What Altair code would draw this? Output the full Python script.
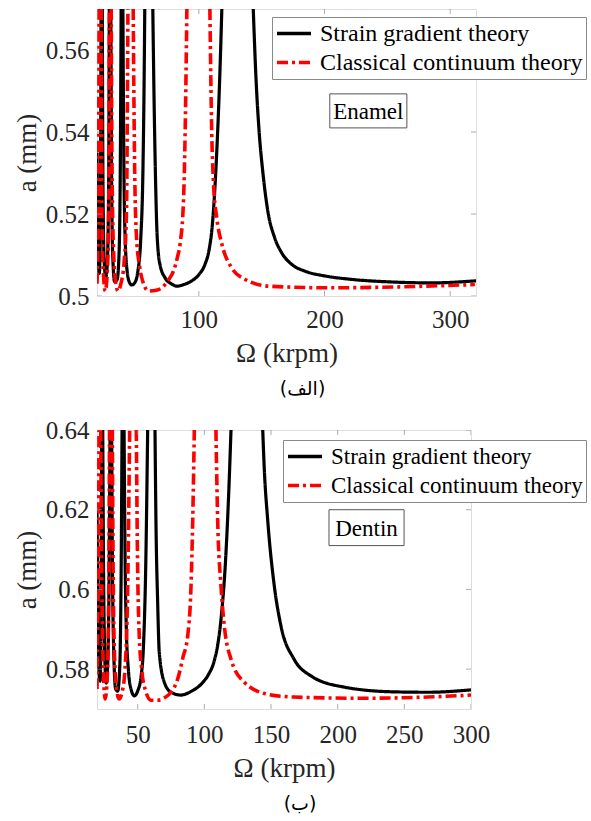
import altair as alt
import pandas as pd

SERIES = ["Strain gradient theory", "Classical continuum theory"]

# ---------------- Enamel (top panel) ----------------
enamel_sgt_x = [
    [19.0, 19.8, 20.8, 21.6, 22.2],
    [23.2, 23.8, 24.8, 26.0, 27.2, 28.2, 28.8],
    [30.0, 30.6, 31.5, 33.0, 35.0, 36.5, 37.5, 38.2],
    [39.6, 40.3, 41.3, 43.0, 45.0, 46.7, 49.0, 51.5, 53.8, 55.5, 56.4, 57.0],
    [63.4, 64.4, 65.6, 66.8, 69.0, 73.2, 78.0, 82.5, 88.0, 94.4, 100.0, 105.0, 108.0, 110.8, 114.3, 116.9, 118.3],
    [143.3, 145.5, 148.0, 151.0, 155.0, 160.0, 166.0, 174.0, 185.0, 200.0, 220.0, 255.0, 285.0, 320.5],
]
enamel_sgt_y = [
    [0.535, 0.512, 0.5055, 0.515, 0.57],
    [0.57, 0.525, 0.508, 0.5045, 0.508, 0.525, 0.57],
    [0.57, 0.53, 0.51, 0.5035, 0.504, 0.51, 0.53, 0.57],
    [0.57, 0.535, 0.515, 0.506, 0.5032, 0.5027, 0.5032, 0.506, 0.514, 0.53, 0.55, 0.57],
    [0.57, 0.548, 0.528, 0.515, 0.5078, 0.5044, 0.503, 0.5024, 0.5028, 0.5037, 0.5052, 0.5078, 0.511, 0.5175, 0.5354, 0.5557, 0.57],
    [0.57, 0.553, 0.540, 0.530, 0.5205, 0.5145, 0.5105, 0.5077, 0.506, 0.5049, 0.5041, 0.5034, 0.5032, 0.5037],
]
enamel_cct_x = [
    [19.0, 19.6, 20.2, 20.7],
    [22.3, 22.9, 24.0, 25.6, 27.2, 28.3, 28.9],
    [30.3, 31.0, 32.3, 34.0, 35.8, 38.0, 40.5, 42.4, 43.6],
    [47.8, 48.8, 50.3, 53.0, 56.0, 60.0, 66.0, 70.6, 76.0, 79.9, 83.0, 85.1, 87.8, 89.1, 90.5],
    [108.8, 110.3, 111.7, 114.3, 118.3, 126.3, 136.6, 155.7, 203.4, 255.9, 319.6],
]
enamel_cct_y = [
    [0.503, 0.51, 0.53, 0.57],
    [0.57, 0.52, 0.506, 0.5012, 0.506, 0.52, 0.57],
    [0.57, 0.53, 0.51, 0.503, 0.5012, 0.503, 0.508, 0.52, 0.57],
    [0.57, 0.535, 0.515, 0.507, 0.503, 0.5012, 0.5014, 0.502, 0.504, 0.5061, 0.5095, 0.5127, 0.5232, 0.5395, 0.57],
    [0.57, 0.5395, 0.5273, 0.519, 0.5127, 0.5068, 0.5041, 0.5024, 0.502, 0.5022, 0.5028],
]

# ---------------- Dentin (bottom panel) ----------------
dentin_sgt_x = [
    [19.5, 20.2, 21.0, 21.8, 22.5, 23.0],
    [23.8, 24.3, 25.2, 26.4, 27.6, 28.6, 29.3],
    [30.5, 31.0, 32.0, 33.5, 35.0, 36.5, 37.5, 38.3],
    [39.8, 40.5, 41.5, 43.0, 45.0, 47.5, 50.0, 52.5, 54.5, 56.0, 57.5],
    [63.0, 63.7, 65.0, 66.2, 70.0, 75.0, 82.5, 90.0, 97.5, 103.0, 107.2, 110.0, 112.5, 116.2, 118.5, 120.0],
    [143.8, 145.0, 147.5, 152.5, 157.5, 167.3, 180.0, 204.8, 242.3, 267.8, 300.0],
]
dentin_sgt_y = [
    [0.62, 0.595, 0.58, 0.577, 0.59, 0.64],
    [0.64, 0.61, 0.585, 0.5765, 0.582, 0.605, 0.64],
    [0.64, 0.61, 0.585, 0.575, 0.5745, 0.58, 0.60, 0.64],
    [0.64, 0.61, 0.59, 0.58, 0.575, 0.5733, 0.5745, 0.578, 0.587, 0.605, 0.64],
    [0.64, 0.6175, 0.5967, 0.5842, 0.5767, 0.5742, 0.5735, 0.5744, 0.5762, 0.5786, 0.5818, 0.586, 0.5925, 0.609, 0.626, 0.64],
    [0.64, 0.63, 0.6175, 0.6008, 0.5908, 0.5825, 0.5783, 0.5755, 0.5743, 0.5742, 0.5748],
]
dentin_cct_x = [
    [19.5, 20.0, 20.5, 21.0],
    [22.3, 22.9, 24.0, 25.6, 27.2, 28.3, 28.9],
    [31.0, 31.5, 32.5, 34.0, 36.0, 38.5, 40.5, 42.5, 44.0],
    [49.0, 49.8, 51.0, 53.0, 56.0, 60.0, 65.0, 70.0, 75.0, 80.0, 84.0, 87.5, 90.0, 91.3, 92.5],
    [108.7, 110.0, 112.5, 115.0, 120.0, 130.0, 147.5, 167.3, 217.5, 267.8, 300.0],
]
dentin_cct_y = [
    [0.575, 0.59, 0.61, 0.64],
    [0.64, 0.61, 0.583, 0.5725, 0.578, 0.60, 0.64],
    [0.64, 0.61, 0.585, 0.5755, 0.5725, 0.5745, 0.58, 0.60, 0.64],
    [0.64, 0.61, 0.59, 0.58, 0.5745, 0.5722, 0.5722, 0.5728, 0.5742, 0.5775, 0.583, 0.5883, 0.6008, 0.6175, 0.64],
    [0.64, 0.6175, 0.6008, 0.5908, 0.5825, 0.5767, 0.5737, 0.573, 0.5727, 0.573, 0.5735],
]

# axis settings
enamel_xdomain = [19.0, 320.5]
enamel_ydomain = [0.5, 0.57]
enamel_xticks = [100, 200, 300]
enamel_yticks = [0.5, 0.52, 0.54, 0.56]
dentin_xdomain = [19.5, 300.0]
dentin_ydomain = [0.57, 0.64]
dentin_xticks = [50, 100, 150, 200, 250, 300]
dentin_yticks = [0.58, 0.6, 0.62, 0.64]

# annotation boxes (data coordinates)
enamel_box = dict(label="Enamel", x1=204.2, x2=265.5, y1=0.5410, y2=0.5493)
dentin_box = dict(label="Dentin", x1=193.5, x2=249.8, y1=0.6110, y2=0.6200)

SERIF = "Liberation Serif, Times New Roman, serif"
TXT = "#262626"
FRAME = "#8a8a8a"


def lobes_df(xs, ys, series):
    rows = []
    for i, (lx, ly) in enumerate(zip(xs, ys)):
        for x, y in zip(lx, ly):
            rows.append({"x": x, "y": y, "series": series, "lobe": f"{series}-{i}"})
    return pd.DataFrame(rows)


def panel(sgt_x, sgt_y, cct_x, cct_y, xdom, ydom, xticks, yticks, box,
          caption, w, h, legx, legy, legfont, xlabpad):
    xs = alt.Scale(domain=xdom, nice=False, zero=False)
    ys = alt.Scale(domain=ydom, nice=False, zero=False)
    legend = alt.Legend(
        title=None, orient="none", legendX=legx, legendY=legy,
        direction="vertical", fillColor="white", strokeColor=FRAME,
        padding=3, labelFont=SERIF, labelFontSize=legfont, labelColor="black",
        symbolType="stroke", symbolSize=1156, symbolStrokeWidth=3.5,
        labelOffset=7, rowPadding=2, clipHeight=27, labelLimit=400,
    )
    color = alt.Color("series:N", scale=alt.Scale(domain=SERIES, range=["black", "red"]), legend=legend)
    dash = alt.StrokeDash("series:N", scale=alt.Scale(domain=SERIES, range=[[1, 0], [11, 4, 3, 4]]), legend=legend)
    xaxis = alt.Axis(values=xticks, format="d", title="Ω (krpm)", labelFont=SERIF, labelFontSize=25,
                     labelColor=TXT, titleFont=SERIF, titleFontSize=27, titleFontWeight="normal",
                     titleColor=TXT, ticks=False, domain=False, grid=False, labelPadding=xlabpad,
                     titlePadding=8, labelFlush=False)
    yaxis = alt.Axis(values=yticks, format=".2~f", title="a (mm)", labelFont=SERIF, labelFontSize=25,
                     labelColor=TXT, titleFont=SERIF, titleFontSize=27, titleFontWeight="normal",
                     titleColor=TXT, ticks=False, domain=False, grid=False, labelPadding=8,
                     titlePadding=4, labelFlush=False)

    sgt = alt.Chart(lobes_df(sgt_x, sgt_y, SERIES[0])).mark_line(
        strokeWidth=3.2, interpolate="monotone", clip=True).encode(
        x=alt.X("x:Q", scale=xs, axis=xaxis),
        y=alt.Y("y:Q", scale=ys, axis=yaxis),
        detail="lobe:N", color=color, strokeDash=dash)
    cct = alt.Chart(lobes_df(cct_x, cct_y, SERIES[1])).mark_line(
        strokeWidth=3.6, interpolate="monotone", clip=True).encode(
        x=alt.X("x:Q", scale=xs), y=alt.Y("y:Q", scale=ys),
        detail="lobe:N", color=color, strokeDash=dash)

    xt = pd.DataFrame([{"x": v, "y": e} for v in xticks for e in ydom])
    yt = pd.DataFrame([{"x": e, "y": v} for v in yticks for e in xdom])
    xtick = alt.Chart(xt).mark_tick(orient="vertical", size=10, thickness=1, color=FRAME, clip=True).encode(
        x=alt.X("x:Q", scale=xs), y=alt.Y("y:Q", scale=ys))
    ytick = alt.Chart(yt).mark_tick(orient="horizontal", size=10, thickness=1, color=FRAME, clip=True).encode(
        x=alt.X("x:Q", scale=xs), y=alt.Y("y:Q", scale=ys))

    bdf = pd.DataFrame([{**box, "xm": (box["x1"] + box["x2"]) / 2, "ym": (box["y1"] + box["y2"]) / 2}])
    rect = alt.Chart(bdf).mark_rect(fill="white", stroke="#555555", strokeWidth=1).encode(
        x=alt.X("x1:Q", scale=xs), x2="x2:Q", y=alt.Y("y1:Q", scale=ys), y2="y2:Q")
    text = alt.Chart(bdf).mark_text(font=SERIF, fontSize=23, color="black", baseline="middle",
                                    align="center", dy=1).encode(
        x=alt.X("xm:Q", scale=xs), y=alt.Y("ym:Q", scale=ys), text="label:N")

    return alt.layer(sgt, cct, xtick, ytick, rect, text).properties(
        width=w, height=h,
        title=alt.TitleParams(caption, orient="bottom", font="DejaVu Sans", fontSize=19,
                              fontWeight="normal", color="black", anchor="middle", frame="group",
                              dx=16, offset=14),
    )


top = panel(enamel_sgt_x, enamel_sgt_y, enamel_cct_x, enamel_cct_y, enamel_xdomain, enamel_ydomain,
            enamel_xticks, enamel_yticks, enamel_box, "(الف)", 379, 287, 175, 8, 24, 11)
bottom = panel(dentin_sgt_x, dentin_sgt_y, dentin_cct_x, dentin_cct_y, dentin_xdomain, dentin_ydomain,
               dentin_xticks, dentin_yticks, dentin_box, "(ب)", 374, 279, 186, 10, 23, 13)

chart = alt.vconcat(top, bottom, spacing=17).resolve_scale(
    color="independent", strokeDash="independent"
).resolve_legend(color="independent", strokeDash="independent").properties(
    padding={"left": 12, "top": 8, "right": 0, "bottom": 0}
).configure_view(stroke=FRAME, strokeWidth=1).configure(background="white")

chart.save("out.html", embed_options={"renderer": "svg", "actions": False})
